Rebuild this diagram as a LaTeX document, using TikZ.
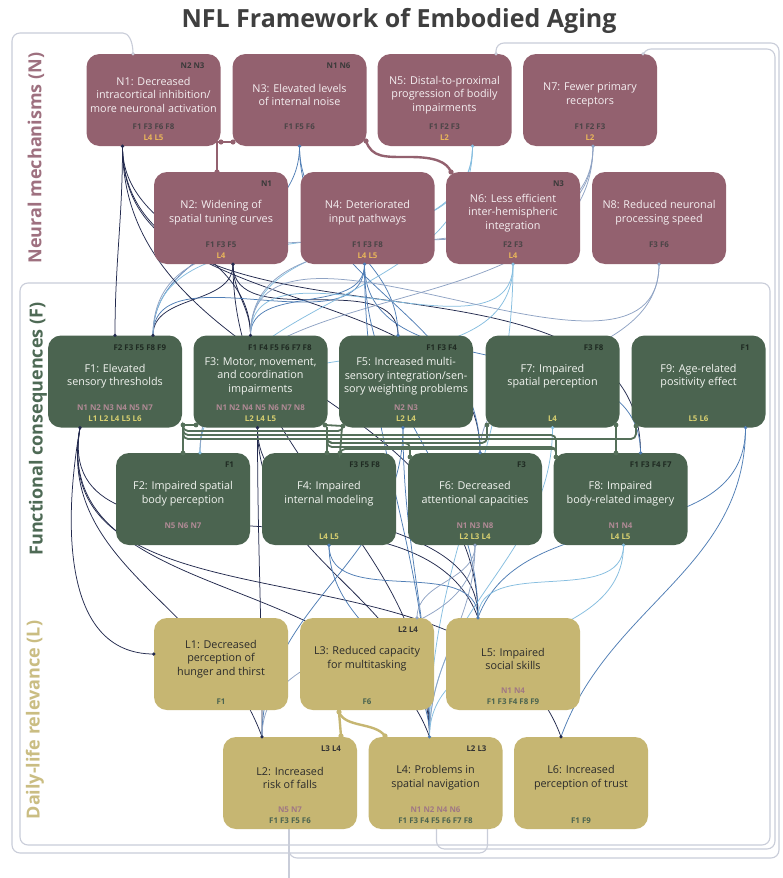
\documentclass[tikz,border=0pt]{standalone}
\usepackage{fontspec}
\setmainfont{Open Sans}
\usetikzlibrary{calc}
\pgfdeclarelayer{bg}
\pgfsetlayers{bg,main}

\definecolor{nfill}{HTML}{93616F}
\definecolor{ffill}{HTML}{4B6450}
\definecolor{lfill}{HTML}{C6B672}
\definecolor{nmain}{HTML}{F5EFF1}
\definecolor{fmain}{HTML}{F2F4F0}
\definecolor{lmain}{HTML}{2B2B2B}
\definecolor{ntag}{HTML}{3A3A3A}
\definecolor{none}{HTML}{4A4446}
\definecolor{ntwo}{HTML}{E8B55A}
\definecolor{ftag}{HTML}{1F2A22}
\definecolor{fone}{HTML}{B08A95}
\definecolor{ftwo}{HTML}{D8D070}
\definecolor{ltag}{HTML}{333333}
\definecolor{lone}{HTML}{A07884}
\definecolor{ltwo}{HTML}{4B6450}
\definecolor{titlec}{HTML}{3F3F3F}
\definecolor{nlab}{HTML}{9E707F}
\definecolor{flab}{HTML}{4E6A55}
\definecolor{llab}{HTML}{CABD82}
\definecolor{navyc}{HTML}{232A4E}
\definecolor{bluec}{HTML}{4F7DB5}
\definecolor{lightc}{HTML}{86BEE0}
\definecolor{grayc}{HTML}{8FA3C4}
\definecolor{framecol}{HTML}{C9CDD9}
\definecolor{flinkc}{HTML}{55705A}

% box with corner tag, centred text and two reference lines
\newcommand{\mkbox}[8]{%
  \node[box, fill=#1fill] (#2) at (#3,#4) {};
  \node[tagtxt, text=#1tag] (#2-tag) at ([xshift=-16pt,yshift=-15pt]#2.north east) {#5};
  \node[maintxt, text=#1main] (#2-txt) at ([yshift=-41pt]#2.north) {#6};
  \node[reftxt, text=#1one] (#2-one) at ([yshift=17pt]#2.south) {#7};
  \node[reftxt, text=#1two] (#2-two) at ([yshift=6pt]#2.south) {#8};
}

\begin{document}
\begin{tikzpicture}[x=1pt,y=-1pt,
  box/.style={rounded corners=13pt, minimum width=134pt, minimum height=92pt, inner sep=0pt},
  maintxt/.style={align=center, font=\fontsize{10.8}{13.5}\selectfont, inner sep=0pt},
  tagtxt/.style={font=\fontsize{7.9}{9}\selectfont\bfseries, inner sep=0pt, anchor=base east},
  reftxt/.style={font=\fontsize{7.9}{9}\selectfont\bfseries, inner sep=0pt, anchor=base},
  conn/.style={line width=0.75pt},
  cnavy/.style={conn, draw=navyc},
  cblue/.style={conn, draw=bluec},
  clight/.style={conn, draw=lightc},
  cgray/.style={conn, draw=grayc},
  framec/.style={draw=framecol, line width=1.1pt, rounded corners=8pt},
  nlink/.style={draw=nfill, line width=2.4pt},
  flink/.style={draw=flinkc, line width=1.8pt, rounded corners=5pt},
  llink/.style={draw=lfill, line width=2.4pt},
  seclab/.style={rotate=90, font=\fontsize{18}{20}\selectfont\bfseries}
]
\useasboundingbox (0,0) rectangle (782,878);

% title and section labels
\node[font=\fontsize{25}{28}\selectfont\bfseries, text=titlec] (title) at (399,21) {NFL Framework of Embodied Aging};
\node[seclab, text=nlab] (secN) at (36,158) {Neural mechanisms (N)};
\node[seclab, text=flab] (secF) at (38,429) {Functional consequences (F)};
\node[seclab, text=llab] (secL) at (35,720) {Daily-life relevance (L)};

% neural mechanisms
\mkbox{n}{N1}{153.5}{100}{N2 N3}{N1: Decreased\\intracortical inhibition/\\more neuronal activation}{F1 F3 F6 F8}{L4 L5}
\mkbox{n}{N3}{299.5}{100}{N1 N6}{N3: Elevated levels\\of internal noise}{F1 F5 F6}{}
\mkbox{n}{N5}{444.5}{100}{}{N5: Distal-to-proximal\\progression of bodily\\impairments}{F1 F2 F3}{L2}
\mkbox{n}{N7}{590}{100}{}{N7: Fewer primary\\receptors}{F1 F2 F3}{L2}
\mkbox{n}{N2}{221}{218}{N1}{N2: Widening of\\spatial tuning curves}{F1 F3 F5}{L4}
\mkbox{n}{N4}{367.5}{218}{}{N4: Deteriorated\\input pathways}{F1 F3 F8}{L4 L5}
\mkbox{n}{N6}{513}{218}{N3}{N6: Less efficient\\inter-hemispheric\\integration}{F2 F3}{L4}
\mkbox{n}{N8}{659}{218}{}{N8: Reduced neuronal\\processing speed}{F3 F6}{}

% functional consequences
\mkbox{f}{F1}{115}{381.5}{F2 F3 F5 F8 F9}{F1: Elevated\\sensory thresholds}{N1 N2 N3 N4 N5 N7}{L1 L2 L4 L5 L6}
\mkbox{f}{F3}{260.5}{381.5}{F1 F4 F5 F6 F7 F8}{F3: Motor, movement,\\and coordination\\impairments}{N1 N2 N4 N5 N6 N7 N8}{L2 L4 L5}
\mkbox{f}{F5}{406}{381.5}{F1 F3 F4}{F5: Increased multi-\\sensory integration/sen-\\sory weighting problems}{N2 N3}{L2 L4}
\mkbox{f}{F7}{552.5}{381.5}{F3 F8}{F7: Impaired\\spatial perception}{}{L4}
\mkbox{f}{F9}{698.5}{381.5}{F1}{F9: Age-related\\positivity effect}{}{L5 L6}
\mkbox{f}{F2}{183}{499}{F1}{F2: Impaired spatial\\body perception}{N5 N6 N7}{}
\mkbox{f}{F4}{329}{499}{F3 F5 F8}{F4: Impaired\\internal modeling}{}{L4 L5}
\mkbox{f}{F6}{475}{499}{F3}{F6: Decreased\\attentional capacities}{N1 N3 N8}{L2 L3 L4}
\mkbox{f}{F8}{620.5}{499}{F1 F3 F4 F7}{F8: Impaired\\body-related imagery}{N1 N4}{L4 L5}

% daily-life relevance
\mkbox{l}{L1}{221}{664}{}{L1: Decreased\\perception of\\hunger and thirst}{}{F1}
\mkbox{l}{L3}{367}{664}{L2 L4}{L3: Reduced capacity\\for multitasking}{}{F6}
\mkbox{l}{L5}{513}{664}{}{L5: Impaired\\social skills}{N1 N4}{F1 F3 F4 F8 F9}
\mkbox{l}{L2}{290}{783}{L3 L4}{L2: Increased\\risk of falls}{N5 N7}{F1 F3 F5 F6}
\mkbox{l}{L4}{435.5}{783}{L2 L3}{L4: Problems in\\spatial navigation}{N1 N2 N4 N6}{F1 F3 F4 F5 F6 F7 F8}
\mkbox{l}{L6}{581}{783}{}{L6: Increased\\perception of trust}{}{F1 F9}

% connection ports
\coordinate (pN1) at ([xshift=-31pt]N1.south);
\coordinate (pN3) at (N3.south);
\coordinate (pN5) at ([xshift=28pt]N5.south);
\coordinate (pN7) at ([xshift=3pt]N7.south);
\coordinate (pN2) at ([xshift=12pt]N2.south);
\coordinate (pN4) at ([xshift=-3pt]N4.south);
\coordinate (pN6) at (N6.south);
\coordinate (pN8) at (N8.south);
\coordinate (qF1a) at (F1.north);
\coordinate (qF1b) at ([xshift=38pt]F1.north);
\coordinate (qF3) at ([xshift=-10pt]F3.north);
\coordinate (qF5) at ([xshift=-8pt]F5.north);
\coordinate (qF2) at ([xshift=17pt]F2.north);
\coordinate (qF6) at ([xshift=5pt]F6.north);
\coordinate (qF8) at ([xshift=20pt]F8.north);
\coordinate (sF1) at ([xshift=-35pt]F1.south);
\coordinate (sF3) at ([xshift=-3pt]F3.south);
\coordinate (sF5) at ([xshift=-3pt]F5.south);
\coordinate (sF7) at (F7.south);
\coordinate (sF9) at ([xshift=47pt]F9.south);
\coordinate (sF4) at (F4.south);
\coordinate (sF6) at (F6.south);
\coordinate (sF8) at ([xshift=3pt]F8.south);
\coordinate (tL1) at ([yshift=10pt]L1.west);
\coordinate (tL2) at ([xshift=-28pt]L2.north);
\coordinate (tL3) at ([xshift=50pt]L3.north);
\coordinate (tL4) at ([xshift=-6pt]L4.north);
\coordinate (tL5) at ([xshift=-35pt]L5.north);
\coordinate (tL6) at ([xshift=-20pt]L6.north);
\coordinate (n1top) at ([xshift=-20.5pt]N1.north);
\coordinate (n5top) at ([xshift=51.5pt]N5.north);
\coordinate (n7top) at ([xshift=53pt]N7.north);
\coordinate (l2b) at ([xshift=-1pt]L2.south);
\coordinate (l4a) at ([xshift=1pt]L4.south);
\coordinate (l4b) at ([xshift=52pt]L4.south);
\coordinate (l2out) at (289,890);

\begin{pgfonlayer}{bg}
\fill[white] (0,0) rectangle (782,878);
% frames and routes around the edge
\draw[framec] (20,283) rectangle (770,845);
\draw[framec] (n1top) .. controls (133,40) and (128,33) .. (115,33) -- (12,33) -- (12,853) -- (487.5,853) -- (l4b);
\draw[framec] (n5top) -- (496,43) -- (779,43) -- (779,858) -- (289,858) -- (l2b);
\draw[framec] (n7top) -- (643,49) -- (775,49) -- (775,849) -- (436.5,849) -- (l4a);
\draw[framec] (l2b) -- (l2out);

% neural -> functional
\draw[cnavy] (pN1) to[out=-90,in=90] (qF1a);
\draw[cnavy] (pN1) to[out=-90,in=90] (qF3);
\draw[cnavy] (pN1) to[out=-90,in=90] (qF6);
\draw[cnavy] (pN1) to[out=-90,in=90] (qF8);
\draw[cnavy] (pN2) to[out=-90,in=90] (qF1b);
\draw[cnavy] (pN2) to[out=-90,in=90] (qF3);
\draw[cnavy] (pN2) to[out=-90,in=90] (qF5);
\draw[cblue] (pN3) to[out=-90,in=90] (qF1b);
\draw[cblue] (pN3) to[out=-90,in=90] (qF5);
\draw[cblue] (pN3) to[out=-90,in=90] (qF6);
\draw[cblue] (pN4) to[out=-90,in=90] (qF1b);
\draw[cblue] (pN4) to[out=-90,in=90] (qF3);
\draw[cblue] (pN4) to[out=-90,in=90] (qF8);
\draw[clight] (pN5) to[out=-90,in=90] (qF1b);
\draw[clight] (pN5) to[out=-90,in=90] (qF2);
\draw[clight] (pN5) to[out=-90,in=90] (qF3);
\draw[clight] (pN6) to[out=-90,in=90] (qF2);
\draw[clight] (pN6) to[out=-90,in=90] (qF3);
\draw[cgray] (pN7) to[out=-90,in=90] (qF1b);
\draw[cgray] (pN7) to[out=-90,in=90] (qF2);
\draw[cgray] (pN7) to[out=-90,in=90] (qF3);
\draw[cgray] (pN8) to[out=-90,in=90] (qF3);
\draw[cgray] (pN8) to[out=-90,in=90] (qF6);
% neural -> daily life
\draw[cnavy] (pN1) to[out=-90,in=90] (tL5);
\draw[cnavy] (pN2) to[out=-90,in=90] (tL4);
\draw[cblue] (pN4) to[out=-90,in=90] (tL4);
\draw[cblue] (pN4) to[out=-90,in=90] (tL5);
\draw[clight] (pN6) to[out=-90,in=90] (tL4);
% functional -> daily life
\draw[cnavy] (sF1) to[out=-100,in=180] (tL1);
\draw[cnavy] (sF1) to[out=-100,in=110] (tL2);
\draw[cnavy] (sF1) to[out=-100,in=110] (tL4);
\draw[cnavy] (sF1) to[out=-100,in=110] (tL5);
\draw[cnavy] (sF1) to[out=-100,in=110] (tL6);
\draw[cnavy] (sF3) to[out=-90,in=90] (tL2);
\draw[cnavy] (sF3) to[out=-90,in=90] (tL4);
\draw[cnavy] (sF3) to[out=-90,in=90] (tL5);
\draw[cblue] (sF5) to[out=-90,in=90] (tL2);
\draw[cblue] (sF5) to[out=-90,in=90] (tL4);
\draw[clight] (sF7) to[out=-90,in=90] (tL4);
\draw[cblue] (sF9) to[out=-90,in=70] (tL5);
\draw[cblue] (sF9) to[out=-90,in=70] (tL6);
\draw[cblue] (sF4) to[out=-90,in=90] (tL4);
\draw[cblue] (sF4) to[out=-90,in=90] (tL5);
\draw[cgray] (sF6) to[out=-90,in=90] (tL2);
\draw[cgray] (sF6) to[out=-90,in=90] (tL3);
\draw[cgray] (sF6) to[out=-90,in=90] (tL4);
\draw[clight] (sF8) to[out=-90,in=90] (tL4);
\draw[clight] (sF8) to[out=-90,in=90] (tL5);
\end{pgfonlayer}

% links within the neural row
\draw[nlink] (216,142) -- (233,142);
\draw[nlink] (217,143) -- (217,172);
\draw[nlink] (366,141) .. controls (372,158) and (385,157) .. (410,157) .. controls (435,157) and (447,162) .. (451,172);
\foreach \q in {(221,142),(233,142),(217,172),(366,141),(451,172)} \fill[nfill] \q circle (2.6pt);

% links within the functional rows
\draw[flink] (183,425) -- (196,425);
\draw[flink] (183,427) -- (183,453);
\draw[flink] (183,427) |- (343,431) -- (343,426);
\draw[flink] (183,427) |- (556,435) -- (556,457);
\draw[flink] (183,427) |- (636,439) -- (636,426);
\draw[flink] (325,425) -- (343,426);
\draw[flink] (327,427) -- (327,453);
\draw[flink] (342,427) -- (340,453);
\draw[flink] (327,427) |- (410,443) -- (410,457);
\draw[flink] (327,427) |- (487,443) -- (487,425);
\draw[flink] (327,427) |- (556,447) -- (556,457);
\draw[flink] (340,453) |- (556,449);
\draw[flink] (616,425) -- (616,453);
\foreach \q in {(183,425),(196,425),(325,425),(343,426),(487,425),(616,425),(636,426),(183,453),(327,453),(340,453),(410,457),(556,457),(616,453)} \fill[flinkc] \q circle (2.4pt);

% links within the daily-life rows
\draw[llink] (339,712) -- (341,736);
\draw[llink] (339,712) .. controls (345,728) and (375,722) .. (385,736);
\foreach \q in {(339,712),(341,736),(385,736)} \fill[lfill] \q circle (2.6pt);

% connector end dots
\foreach \p/\c in {pN1/navyc, pN2/navyc, pN3/bluec, pN4/bluec, pN5/lightc, pN6/lightc, pN7/grayc, pN8/grayc,
  qF1a/navyc, qF1b/navyc, qF3/navyc, qF5/bluec, qF2/lightc, qF6/bluec, qF8/bluec,
  sF1/navyc, sF3/navyc, sF5/bluec, sF7/lightc, sF9/bluec, sF4/bluec, sF6/grayc, sF8/lightc,
  tL1/navyc, tL2/navyc, tL3/grayc, tL4/bluec, tL5/bluec, tL6/navyc,
  n1top/framecol, n5top/framecol, n7top/framecol}
  \fill[\c] (\p) circle (1.8pt);
\end{tikzpicture}
\end{document}
